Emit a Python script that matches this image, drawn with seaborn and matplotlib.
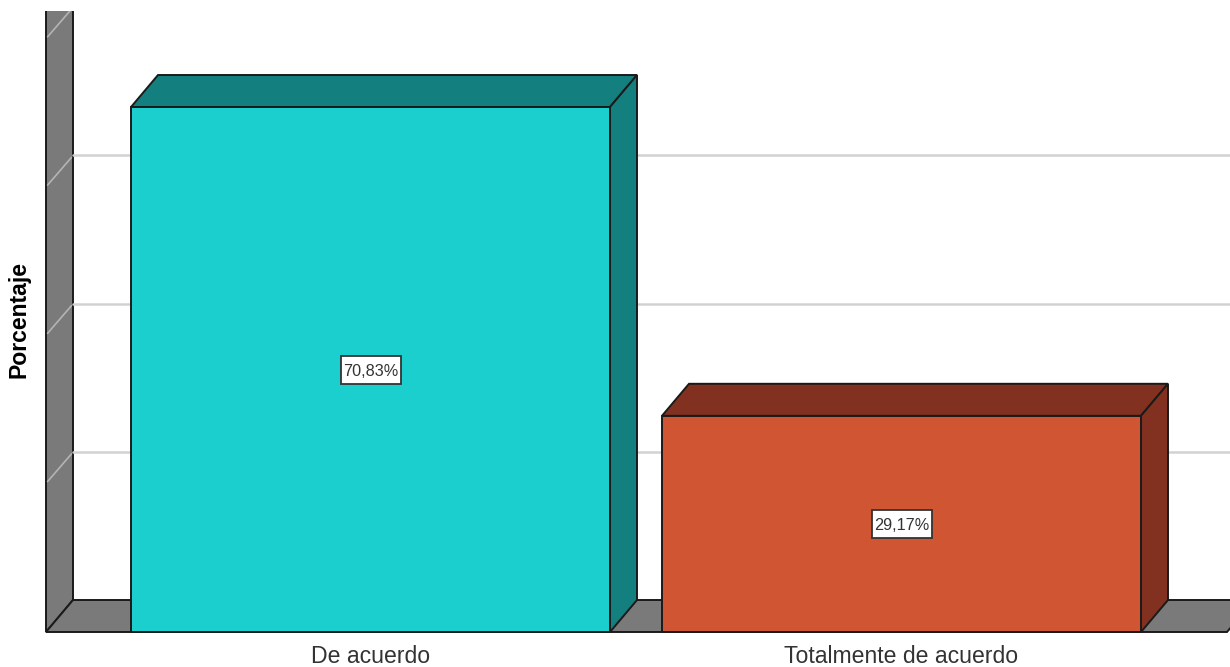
import matplotlib
matplotlib.use("Agg")
import matplotlib.pyplot as plt
from matplotlib.patches import Polygon, Rectangle
import pandas as pd
import seaborn as sns

# values
categories = ["De acuerdo", "Totalmente de acuerdo"]
percentages = [70.83, 29.17]
value_labels = ["70,83%", "29,17%"]
grid_values = [20, 40, 60, 80]

front_colors = ["#1CCFCF", "#CF5533"]
depth_colors = ["#137F7E", "#823120"]
WALL_GRAY = "#7A7A7A"
GRID_GRAY = "#D2D2D2"
EDGE = "#1A1A1A"

W, H = 1230, 667
# pixel scale of the original chart
PX_PER_CAT = 531.0
PX_PER_PCT = 7.412
DEPTH_X = 27 / PX_PER_CAT
DEPTH_Y = 32 / PX_PER_PCT

sns.set_theme(style="white")
plt.rcParams["font.family"] = ["Liberation Sans", "DejaVu Sans"]

fig = plt.figure(figsize=(W / 100, H / 100), dpi=100)
# axes box in pixels: left 40, right 1230, top 11, baseline just below 632
ax = fig.add_axes([40 / W, (H - 634) / H, (W - 40) / W, (634 - 11) / H])

df = pd.DataFrame({"cat": categories, "pct": percentages})
sns.barplot(data=df, x="cat", y="pct", hue="cat", palette=front_colors, legend=False,
            width=479 / PX_PER_CAT, saturation=1, edgecolor=EDGE, linewidth=1.4, zorder=5, ax=ax)

x_left = -(370.5 - 40) / PX_PER_CAT
x_right = 1 + (1230 - 901.5) / PX_PER_CAT
wall_left = -(370.5 - 46) / PX_PER_CAT
y_bottom = -2 / PX_PER_PCT
y_top = (632 - 11) / PX_PER_PCT
ax.set_xlim(x_left, x_right)
ax.set_ylim(y_bottom, y_top)

# back wall and floor
ax.add_patch(Polygon([(wall_left, 0), (wall_left + DEPTH_X, DEPTH_Y),
                      (wall_left + DEPTH_X, y_top + 5), (wall_left, y_top + 5)],
                     facecolor=WALL_GRAY, edgecolor=EDGE, linewidth=1.4, zorder=1))
floor_end = 1 + (1227 - 901.5) / PX_PER_CAT
ax.add_patch(Polygon([(wall_left, 0), (wall_left + DEPTH_X, DEPTH_Y),
                      (floor_end + DEPTH_X, DEPTH_Y), (floor_end, 0)],
                     facecolor=WALL_GRAY, edgecolor=EDGE, linewidth=1.4, zorder=1))

# gridlines run along the back and fold down the side wall
for v in grid_values:
    ax.plot([wall_left + DEPTH_X, x_right + 1], [v + DEPTH_Y, v + DEPTH_Y], color=GRID_GRAY, lw=1.8, zorder=2)
    ax.plot([wall_left + 0.003, wall_left + DEPTH_X - 0.003], [v + 0.3, v + DEPTH_Y - 0.3],
            color="#B4B4B4", lw=1.2, zorder=2)

# 3d faces of each bar, plus the value box in the middle of the front
box_w = 60 / PX_PER_CAT
box_h = 28 / PX_PER_PCT
for bar, top_c, text in zip(ax.patches[:len(categories)], depth_colors, value_labels):
    x0 = bar.get_x()
    x1 = x0 + bar.get_width()
    h = bar.get_height()
    xc = (x0 + x1) / 2
    bar.set_clip_on(False)
    ax.add_patch(Polygon([(x0, h), (x0 + DEPTH_X, h + DEPTH_Y), (x1 + DEPTH_X, h + DEPTH_Y), (x1, h)],
                         facecolor=top_c, edgecolor=EDGE, linewidth=1.4, zorder=4))
    ax.add_patch(Polygon([(x1, 0), (x1 + DEPTH_X, DEPTH_Y), (x1 + DEPTH_X, h + DEPTH_Y), (x1, h)],
                         facecolor=top_c, edgecolor=EDGE, linewidth=1.4, zorder=4))
    ax.add_patch(Rectangle((xc - box_w / 2, h / 2 - box_h / 2), box_w, box_h, facecolor="white",
                           edgecolor="#333333", linewidth=1.3, zorder=6))
    ax.text(xc, h / 2, text, ha="center", va="center_baseline", fontsize=11.7, color="#333333", zorder=7)

sns.despine(ax=ax, left=True, bottom=True)
ax.set_yticks([])
ax.set_xlabel("")
ax.tick_params(axis="x", length=0, pad=8, labelsize=16.6, labelcolor="#333333")
ax.set_ylabel("Porcentaje", fontsize=16.6, fontweight="bold", color="black")
ax.yaxis.set_label_coords(-10 / (W - 40), (634 - 320) / (634 - 11))

fig.savefig("out.png", dpi=100, facecolor="white")
